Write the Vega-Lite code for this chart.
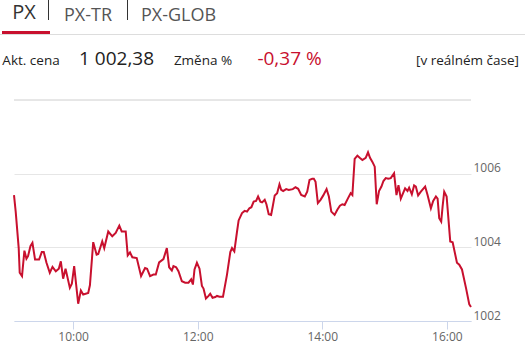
{
  "$schema": "https://vega.github.io/schema/vega-lite/v6.json",
  "padding": {"left": 0, "top": 0, "right": 0, "bottom": 6},
  "background": "white",
  "spacing": 0,
  "config": {"view": {"stroke": null}, "font": "Open Sans", "concat": {"spacing": 0}},
  "vconcat": [
    {
      "hconcat": [
        {"width": 48, "height": 31, "view": {"fill": "#ffffff"}, "data": {"values": [{"s": "PX"}]}, "mark": {"type": "text", "align": "center", "baseline": "alphabetic", "dy": 3.5, "fontSize": 20, "color": "#333333"}, "encoding": {"text": {"field": "s"}}},
        {"width": 1, "height": 20, "view": {"fill": "#333333"}, "data": {"values": []}, "mark": {"type": "text"}},
        {"width": 78, "height": 31, "view": {"fill": "#ffffff"}, "data": {"values": [{"s": "PX-TR"}]}, "mark": {"type": "text", "align": "center", "baseline": "alphabetic", "dy": 5, "fontSize": 18, "color": "#555555"}, "encoding": {"text": {"field": "s"}}},
        {"width": 1, "height": 20, "view": {"fill": "#333333"}, "data": {"values": []}, "mark": {"type": "text"}},
        {"width": 101, "height": 31, "view": {"fill": "#ffffff"}, "data": {"values": [{"s": "PX-GLOB"}]}, "mark": {"type": "text", "align": "center", "baseline": "alphabetic", "dy": 5, "fontSize": 18, "color": "#555555"}, "encoding": {"text": {"field": "s"}}}
      ],
      "spacing": 0, "bounds": "flush"
    },
    {
      "hconcat": [
        {"width": 2, "height": 3, "view": {"fill": "#ffffff"}, "data": {"values": []}, "mark": {"type": "text"}},
        {"width": 48, "height": 3, "view": {"fill": "#c8102e"}, "data": {"values": []}, "mark": {"type": "text"}}
      ],
      "spacing": 0, "bounds": "flush"
    },
    {"width": 525, "height": 1, "view": {"fill": "#dddddd"}, "data": {"values": []}, "mark": {"type": "text"}},
    {
      "hconcat": [
        {"width": 62, "height": 60, "view": {"fill": "#ffffff"}, "data": {"values": [{"s": "Akt. cena"}]}, "mark": {"type": "text", "align": "center", "baseline": "alphabetic", "fontSize": 13.5, "color": "#222222"}, "encoding": {"text": {"field": "s"}}},
        {"width": 109, "height": 60, "view": {"fill": "#ffffff"}, "data": {"values": [{"s": "1 002,38"}]}, "mark": {"type": "text", "align": "center", "baseline": "alphabetic", "fontSize": 19, "color": "#222222"}, "encoding": {"text": {"field": "s"}}},
        {"width": 64, "height": 60, "view": {"fill": "#ffffff"}, "data": {"values": [{"s": "Změna %"}]}, "mark": {"type": "text", "align": "center", "baseline": "alphabetic", "fontSize": 13.5, "color": "#222222"}, "encoding": {"text": {"field": "s"}}},
        {"width": 109, "height": 60, "view": {"fill": "#ffffff"}, "data": {"values": [{"s": "-0,37 %"}]}, "mark": {"type": "text", "align": "center", "baseline": "alphabetic", "fontSize": 19, "color": "#c8102e"}, "encoding": {"text": {"field": "s"}}},
        {"width": 61, "height": 64, "view": {"fill": "#ffffff"}, "data": {"values": []}, "mark": {"type": "text"}},
        {"width": 125, "height": 60, "view": {"fill": "#ffffff"}, "data": {"values": [{"s": "[v reálném čase]"}]}, "mark": {"type": "text", "align": "center", "baseline": "alphabetic", "fontSize": 13.5, "color": "#222222"}, "encoding": {"text": {"field": "s"}}}
      ],
      "spacing": 0, "bounds": "flush"
    },
    {
      "hconcat": [
        {"width": 14, "height": 221, "view": {"fill": "#ffffff"}, "data": {"values": []}, "mark": {"type": "text"}},
        {
          "width": 457,
          "height": 221,
          "data": {"values": [
            {"t":"2024-01-15T09:03:00","v":1005.42},{"t":"2024-01-15T09:04:38","v":1004.97},{"t":"2024-01-15T09:07:32","v":1003.98},{"t":"2024-01-15T09:08:30","v":1003.31},{"t":"2024-01-15T09:10:43","v":1003.22},{"t":"2024-01-15T09:13:02","v":1003.91},{"t":"2024-01-15T09:14:59","v":1003.69},{"t":"2024-01-15T09:16:31","v":1003.76},{"t":"2024-01-15T09:18:50","v":1004.03},{"t":"2024-01-15T09:20:46","v":1004.12},{"t":"2024-01-15T09:23:17","v":1003.67},{"t":"2024-01-15T09:27:09","v":1003.67},{"t":"2024-01-15T09:29:46","v":1003.87},{"t":"2024-01-15T09:31:41","v":1003.87},{"t":"2024-01-15T09:34:18","v":1003.58},{"t":"2024-01-15T09:37:29","v":1003.31},{"t":"2024-01-15T09:40:06","v":1003.47},{"t":"2024-01-15T09:43:17","v":1003.35},{"t":"2024-01-15T09:46:11","v":1003.42},{"t":"2024-01-15T09:48:07","v":1003.62},{"t":"2024-01-15T09:50:20","v":1003.15},{"t":"2024-01-15T09:52:40","v":1003.42},{"t":"2024-01-15T09:56:49","v":1002.90},{"t":"2024-01-15T09:58:44","v":1003.01},{"t":"2024-01-15T10:00:58","v":1003.49},{"t":"2024-01-15T10:04:50","v":1002.47},{"t":"2024-01-15T10:07:26","v":1002.83},{"t":"2024-01-15T10:09:40","v":1002.72},{"t":"2024-01-15T10:14:30","v":1002.76},{"t":"2024-01-15T10:16:08","v":1002.97},{"t":"2024-01-15T10:19:20","v":1004.14},{"t":"2024-01-15T10:22:36","v":1003.80},{"t":"2024-01-15T10:24:10","v":1003.82},{"t":"2024-01-15T10:28:01","v":1004.16},{"t":"2024-01-15T10:29:57","v":1003.98},{"t":"2024-01-15T10:33:49","v":1004.43},{"t":"2024-01-15T10:37:41","v":1004.30},{"t":"2024-01-15T10:40:58","v":1004.39},{"t":"2024-01-15T10:44:27","v":1004.59},{"t":"2024-01-15T10:46:46","v":1004.43},{"t":"2024-01-15T10:50:38","v":1004.43},{"t":"2024-01-15T10:52:34","v":1003.78},{"t":"2024-01-15T10:54:47","v":1003.86},{"t":"2024-01-15T10:57:00","v":1003.73},{"t":"2024-01-15T11:01:15","v":1003.71},{"t":"2024-01-15T11:05:25","v":1003.22},{"t":"2024-01-15T11:09:17","v":1003.44},{"t":"2024-01-15T11:11:13","v":1003.42},{"t":"2024-01-15T11:14:06","v":1003.22},{"t":"2024-01-15T11:17:18","v":1003.26},{"t":"2024-01-15T11:19:37","v":1003.26},{"t":"2024-01-15T11:22:48","v":1003.59},{"t":"2024-01-15T11:26:58","v":1003.68},{"t":"2024-01-15T11:30:15","v":1003.98},{"t":"2024-01-15T11:32:28","v":1003.46},{"t":"2024-01-15T11:35:04","v":1003.37},{"t":"2024-01-15T11:36:37","v":1003.49},{"t":"2024-01-15T11:39:14","v":1003.46},{"t":"2024-01-15T11:41:27","v":1003.35},{"t":"2024-01-15T11:44:44","v":1003.08},{"t":"2024-01-15T11:47:56","v":1003.04},{"t":"2024-01-15T11:51:07","v":1003.04},{"t":"2024-01-15T11:53:43","v":1003.13},{"t":"2024-01-15T11:55:22","v":1002.99},{"t":"2024-01-15T11:56:55","v":1003.40},{"t":"2024-01-15T11:59:14","v":1003.58},{"t":"2024-01-15T12:01:44","v":1003.42},{"t":"2024-01-15T12:04:03","v":1002.95},{"t":"2024-01-15T12:05:36","v":1002.88},{"t":"2024-01-15T12:07:55","v":1002.61},{"t":"2024-01-15T12:10:26","v":1002.68},{"t":"2024-01-15T12:12:04","v":1002.74},{"t":"2024-01-15T12:14:18","v":1002.63},{"t":"2024-01-15T12:16:55","v":1002.65},{"t":"2024-01-15T12:18:33","v":1002.68},{"t":"2024-01-15T12:21:04","v":1002.66},{"t":"2024-01-15T12:24:21","v":1002.66},{"t":"2024-01-15T12:28:13","v":1003.26},{"t":"2024-01-15T12:31:24","v":1003.87},{"t":"2024-01-15T12:33:02","v":1003.98},{"t":"2024-01-15T12:35:16","v":1003.89},{"t":"2024-01-15T12:37:53","v":1004.43},{"t":"2024-01-15T12:39:25","v":1004.73},{"t":"2024-01-15T12:42:42","v":1004.93},{"t":"2024-01-15T12:45:13","v":1004.99},{"t":"2024-01-15T12:47:32","v":1004.97},{"t":"2024-01-15T12:49:46","v":1005.06},{"t":"2024-01-15T12:51:42","v":1005.09},{"t":"2024-01-15T12:53:55","v":1005.24},{"t":"2024-01-15T12:56:14","v":1005.26},{"t":"2024-01-15T12:58:10","v":1005.38},{"t":"2024-01-15T13:00:23","v":1005.24},{"t":"2024-01-15T13:02:02","v":1005.22},{"t":"2024-01-15T13:04:33","v":1005.29},{"t":"2024-01-15T13:06:12","v":1005.17},{"t":"2024-01-15T13:08:24","v":1004.90},{"t":"2024-01-15T13:10:43","v":1004.88},{"t":"2024-01-15T13:12:16","v":1005.11},{"t":"2024-01-15T13:14:12","v":1005.41},{"t":"2024-01-15T13:16:32","v":1005.47},{"t":"2024-01-15T13:18:45","v":1005.71},{"t":"2024-01-15T13:20:24","v":1005.56},{"t":"2024-01-15T13:22:20","v":1005.53},{"t":"2024-01-15T13:25:14","v":1005.58},{"t":"2024-01-15T13:27:43","v":1005.56},{"t":"2024-01-15T13:31:35","v":1005.58},{"t":"2024-01-15T13:34:12","v":1005.63},{"t":"2024-01-15T13:36:48","v":1005.59},{"t":"2024-01-15T13:39:42","v":1005.42},{"t":"2024-01-15T13:43:11","v":1005.38},{"t":"2024-01-15T13:45:30","v":1005.51},{"t":"2024-01-15T13:47:43","v":1005.83},{"t":"2024-01-15T13:50:20","v":1005.86},{"t":"2024-01-15T13:51:53","v":1005.86},{"t":"2024-01-15T13:53:32","v":1005.78},{"t":"2024-01-15T13:55:45","v":1005.20},{"t":"2024-01-15T13:58:21","v":1005.29},{"t":"2024-01-15T14:00:58","v":1005.41},{"t":"2024-01-15T14:04:09","v":1005.58},{"t":"2024-01-15T14:06:22","v":1005.38},{"t":"2024-01-15T14:08:42","v":1004.97},{"t":"2024-01-15T14:11:53","v":1004.88},{"t":"2024-01-15T14:14:30","v":1005.02},{"t":"2024-01-15T14:17:01","v":1005.13},{"t":"2024-01-15T14:19:20","v":1005.17},{"t":"2024-01-15T14:21:33","v":1005.15},{"t":"2024-01-15T14:24:44","v":1005.33},{"t":"2024-01-15T14:27:21","v":1005.47},{"t":"2024-01-15T14:29:00","v":1005.42},{"t":"2024-01-15T14:31:13","v":1006.40},{"t":"2024-01-15T14:33:50","v":1006.49},{"t":"2024-01-15T14:36:03","v":1006.43},{"t":"2024-01-15T14:38:40","v":1006.37},{"t":"2024-01-15T14:41:51","v":1006.43},{"t":"2024-01-15T14:44:05","v":1006.58},{"t":"2024-01-15T14:46:00","v":1006.43},{"t":"2024-01-15T14:48:19","v":1006.32},{"t":"2024-01-15T14:50:32","v":1006.19},{"t":"2024-01-15T14:52:28","v":1005.17},{"t":"2024-01-15T14:54:41","v":1005.53},{"t":"2024-01-15T14:57:00","v":1005.65},{"t":"2024-01-15T14:58:56","v":1005.80},{"t":"2024-01-15T15:01:10","v":1005.88},{"t":"2024-01-15T15:03:35","v":1005.86},{"t":"2024-01-15T15:06:00","v":1005.88},{"t":"2024-01-15T15:09:11","v":1006.01},{"t":"2024-01-15T15:11:30","v":1005.42},{"t":"2024-01-15T15:13:26","v":1005.69},{"t":"2024-01-15T15:15:40","v":1005.32},{"t":"2024-01-15T15:17:53","v":1005.47},{"t":"2024-01-15T15:19:49","v":1005.60},{"t":"2024-01-15T15:22:08","v":1005.53},{"t":"2024-01-15T15:23:41","v":1005.62},{"t":"2024-01-15T15:26:18","v":1005.44},{"t":"2024-01-15T15:28:30","v":1005.68},{"t":"2024-01-15T15:30:09","v":1005.65},{"t":"2024-01-15T15:32:22","v":1005.41},{"t":"2024-01-15T15:34:59","v":1005.51},{"t":"2024-01-15T15:39:08","v":1005.65},{"t":"2024-01-15T15:41:27","v":1005.42},{"t":"2024-01-15T15:44:39","v":1005.06},{"t":"2024-01-15T15:46:52","v":1005.26},{"t":"2024-01-15T15:49:29","v":1005.38},{"t":"2024-01-15T15:51:07","v":1005.32},{"t":"2024-01-15T15:52:40","v":1004.79},{"t":"2024-01-15T15:54:36","v":1004.70},{"t":"2024-01-15T15:55:57","v":1005.11},{"t":"2024-01-15T15:57:30","v":1005.51},{"t":"2024-01-15T15:59:49","v":1005.38},{"t":"2024-01-15T16:03:18","v":1004.16},{"t":"2024-01-15T16:05:37","v":1004.14},{"t":"2024-01-15T16:09:46","v":1003.58},{"t":"2024-01-15T16:11:59","v":1003.53},{"t":"2024-01-15T16:14:36","v":1003.40},{"t":"2024-01-15T16:18:28","v":1002.90},{"t":"2024-01-15T16:21:39","v":1002.45},{"t":"2024-01-15T16:23:18","v":1002.38}
          ]},
          "layer": [
            {
              "mark": {"type": "rule", "color": "#e6e6e6", "strokeWidth": 1},
              "encoding": {"y": {"datum": 1008, "type": "quantitative"}}
            },
            {
              "mark": {"type": "line", "color": "#c8102e", "strokeWidth": 2},
              "encoding": {
                "x": {
                  "field": "t", "type": "temporal",
                  "scale": {"nice": false},
                  "axis": {"title": null, "tickCount": 8, "labelExpr": "hours(datum.value) % 2 == 0 ? timeFormat(datum.value, '%H:%M') : ''", "tickColor": {"condition": {"test": "hours(datum.value) % 2 == 1", "value": "transparent"}, "value": "#ccd6eb"}, "grid": false, "domainColor": "#ccd6eb", "tickSize": 8, "labelPadding": 2, "labelFontSize": 12, "labelColor": "#666666", "labelFlush": false, "labelOverlap": false}
                },
                "y": {
                  "field": "v", "type": "quantitative",
                  "scale": {"domain": [1002, 1008], "nice": false, "zero": false},
                  "axis": {"orient": "right", "title": null, "values": [1002, 1004, 1006], "format": "d", "domain": false, "ticks": false, "tickSize": 0, "grid": true, "gridColor": "#e6e6e6", "labelPadding": 2, "labelFontSize": 12, "labelColor": "#666666", "labelOffset": -2, "labelBaseline": "alphabetic", "labelAlign": "left", "labelFlush": false}
                }
              }
            }
          ]
        }
      ],
      "spacing": 0, "bounds": "flush"
    }
  ]
}
